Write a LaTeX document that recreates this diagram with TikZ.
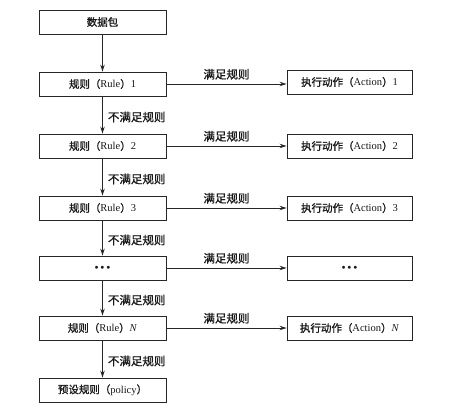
\documentclass[tikz,border=0pt]{standalone}
\usepackage{fontspec}
\setmainfont{Liberation Serif}
\newfontfamily\cjk[FakeBold=1.2]{Noto Sans CJK SC}
\usetikzlibrary{arrows.meta}
\newcommand{\tridots}{{\fontsize{7}{8}\selectfont$\bullet\bullet\bullet$}}
\tikzset{
  x=1pt, y=-1pt,
  stepbox/.style={draw=black!85, line width=0.9pt, minimum width=127pt, minimum height=24pt, inner sep=0pt, font=\fontsize{10.5}{12}\selectfont, text=black!90},
  actbox/.style={stepbox, minimum width=125pt},
  flow/.style={draw=black!85, line width=0.9pt, -{Stealth[length=7pt,width=4.5pt]}},
  lbl/.style={font=\cjk\fontsize{11.5}{13}\selectfont, text=black!90, inner sep=1pt},
}
\begin{document}
\begin{tikzpicture}
\useasboundingbox (0,0) rectangle (456,412);
\node[stepbox] (p) at (102.5,22) {\cjk 数据包};
\node[stepbox] (r1) at (102.5,84) {{\cjk 规则（}Rule{\cjk ）}1};
\node[stepbox] (r2) at (102.5,146) {{\cjk 规则（}Rule{\cjk ）}2};
\node[stepbox] (r3) at (102.5,208) {{\cjk 规则（}Rule{\cjk ）}3};
\node[stepbox] (rd) at (102.5,268) {\tridots};
\node[stepbox] (rn) at (102.5,328) {{\cjk 规则（}Rule{\cjk ）}\textit{N}};
\node[stepbox] (pol) at (102.5,390) {{\cjk 预设规则（}policy{\cjk ）}};

\node[actbox] (a1) at (349.5,82) {{\cjk 执行动作（}Action{\cjk ）}1};
\node[actbox] (a2) at (349.5,146) {{\cjk 执行动作（}Action{\cjk ）}2};
\node[actbox] (a3) at (349.5,208) {{\cjk 执行动作（}Action{\cjk ）}3};
\node[actbox] (ad) at (349.5,268) {\tridots};
\node[actbox] (an) at (349.5,328) {{\cjk 执行动作（}Action{\cjk ）}\textit{N}};

\draw[flow] (p) -- (r1);
\draw[flow] (r1) -- node[lbl, right, xshift=4pt, yshift=-2pt] {不满足规则} (r2);
\draw[flow] (r2) -- node[lbl, right, xshift=4pt, yshift=-2pt] {不满足规则} (r3);
\draw[flow] (r3) -- node[lbl, right, xshift=4pt, yshift=-2pt] {不满足规则} (rd);
\draw[flow] (rd) -- node[lbl, right, xshift=4pt, yshift=-2pt] {不满足规则} (rn);
\draw[flow] (rn) -- node[lbl, right, xshift=4pt, yshift=-2pt] {不满足规则} (pol);

\draw[flow] (r1.east) -- node[lbl, above, yshift=3pt] {满足规则} (r1.east -| a1.west);
\draw[flow] (r2.east) -- node[lbl, above, yshift=3pt] {满足规则} (r2.east -| a2.west);
\draw[flow] (r3.east) -- node[lbl, above, yshift=3pt] {满足规则} (r3.east -| a3.west);
\draw[flow] (rd.east) -- node[lbl, above, yshift=3pt] {满足规则} (rd.east -| ad.west);
\draw[flow] (rn.east) -- node[lbl, above, yshift=3pt] {满足规则} (rn.east -| an.west);
\end{tikzpicture}
\end{document}
